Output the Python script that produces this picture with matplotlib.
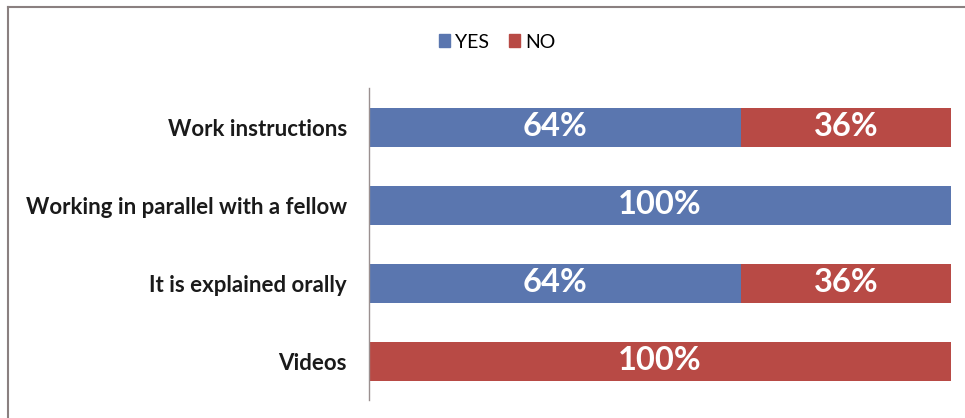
import matplotlib
matplotlib.use("Agg")
import matplotlib.pyplot as plt
from matplotlib.lines import Line2D
from matplotlib.patches import Patch

categories = ["Work instructions", "Working in parallel with a fellow",
              "It is explained orally", "Videos"]
yes_vals = [64, 100, 64, 0]
no_vals = [36, 0, 36, 100]
series_names = ["YES", "NO"]

blue = "#5A76AF"
red = "#B84A45"

plt.rcParams['font.family'] = ['Lato', 'DejaVu Sans']

fig = plt.figure(figsize=(9.65, 4.18), dpi=100)
ax = fig.add_axes([369/965, 1 - 400/418, (951-369)/965, 312/418])

ypos = list(range(len(categories)))
ax.barh(ypos, yes_vals, height=0.5, color=blue, label=series_names[0])
ax.barh(ypos, no_vals, left=yes_vals, height=0.5, color=red, label=series_names[1])

for i, (y, n) in enumerate(zip(yes_vals, no_vals)):
    if y > 0:
        ax.text(y / 2, i, f"{y}%", ha="center", va="center", color="white",
                fontsize=23.5, fontweight="bold")
    if n > 0:
        ax.text(y + n / 2, i, f"{n}%", ha="center", va="center", color="white",
                fontsize=23.5, fontweight="bold")

ax.set_xlim(0, 100)
ax.set_ylim(len(categories) - 0.5, -0.5)
ax.set_yticks(ypos)
ax.set_yticklabels(categories, fontsize=16, fontweight="bold", color="#1a1a1a")
ax.tick_params(axis="y", length=0, pad=16)
ax.set_xticks([])
for s in ["top", "right", "bottom"]:
    ax.spines[s].set_visible(False)
ax.spines["left"].set_color("#9a9090")
ax.spines["left"].set_linewidth(1.0)

handles = [Patch(color=blue), Patch(color=red)]
leg = fig.legend(handles, series_names, loc="center", bbox_to_anchor=(497/965, 1 - 42/418),
                 ncol=2, frameon=False, fontsize=14, handlelength=0.6, handleheight=0.6,
                 handletextpad=0.25, columnspacing=1.0)

# outer border (left & top)
fig.add_artist(Line2D([8/965, 8/965], [0, 1 - 7/418], transform=fig.transFigure,
                      color="#8a8080", linewidth=1.5))
fig.add_artist(Line2D([8/965, 1], [1 - 7/418, 1 - 7/418], transform=fig.transFigure,
                      color="#8a8080", linewidth=1.5))

fig.savefig("out.png", dpi=100)
